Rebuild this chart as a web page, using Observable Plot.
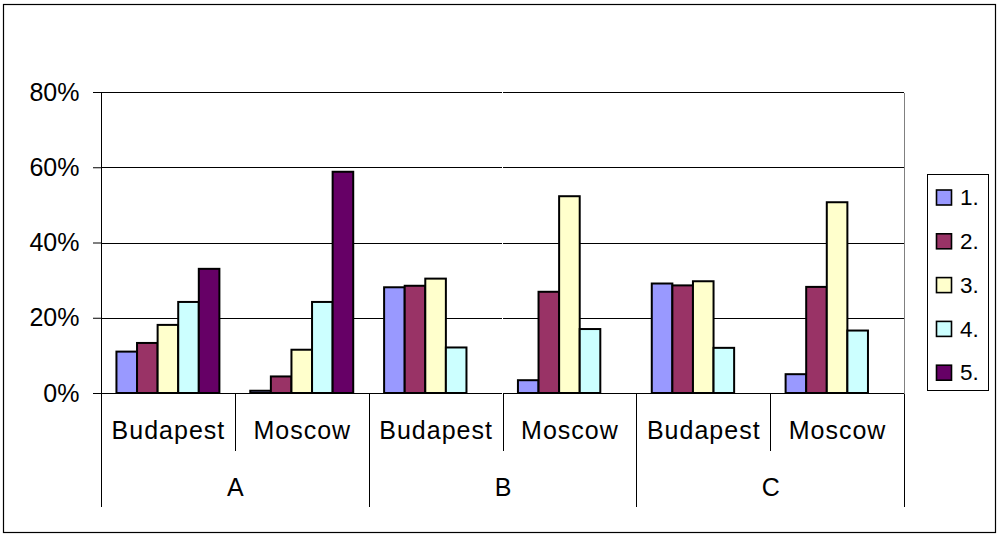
<!DOCTYPE html>
<html>
<head>
<meta charset="utf-8">
<script src="https://cdn.jsdelivr.net/npm/d3@7"></script>
<script src="https://cdn.jsdelivr.net/npm/@observablehq/plot@0.6"></script>
<style>
  html, body { margin: 0; padding: 0; background: #fff; }
  #chart svg { display: block; }
  #chart g[aria-label="fx-axis tick label"] text { letter-spacing: 1px; }
</style>
</head>
<body>
<div id="chart"></div>
<script>
// Groups and cities on the two-level category axis
const groups = ["A", "B", "C"];
const cities = ["Budapest", "Moscow"];
// Answer categories (legend)
const series = ["1.", "2.", "3.", "4.", "5."];
const seriesColors = ["#9999FF", "#993366", "#FFFFCC", "#CCFFFF", "#660066"];
// Y axis ticks (percent)
const yTicks = [0, 20, 40, 60, 80];

// Shares per group/city, in percent, in series order
const aBudapest = [11.0, 13.3, 18.1, 24.2, 33.0];
const aMoscow   = [0.6, 4.4, 11.5, 24.2, 58.8];
const bBudapest = [28.1, 28.5, 30.4, 12.1];
const bMoscow   = [3.4, 26.9, 52.3, 17.0];
const cBudapest = [29.1, 28.6, 29.7, 12.0];
const cMoscow   = [5.0, 28.2, 50.7, 16.6];

const valueTable = {
  "A Budapest": aBudapest, "A Moscow": aMoscow,
  "B Budapest": bBudapest, "B Moscow": bMoscow,
  "C Budapest": cBudapest, "C Moscow": cMoscow
};

const keys = groups.flatMap(g => cities.map(c => `${g} ${c}`));
const rows = keys.flatMap(k => valueTable[k].map((v, i) => ({key: k, series: series[i], value: v})));
// Group label sits on the boundary between its two cities (left edge of the second city)
const groupLabels = groups.map(g => ({key: `${g} ${cities[1]}`, name: g}));

const font = "'Liberation Sans', Arial, sans-serif";

const chart = Plot.plot({
  width: 997,
  height: 534,
  marginLeft: 101,
  marginRight: 93,
  marginTop: 92,
  marginBottom: 141,
  style: {fontFamily: font, fontSize: "25px", color: "#000", background: "transparent", overflow: "visible"},
  fx: {domain: keys, padding: 0, round: false, label: null, tickSize: 0, tickPadding: 28, tickFormat: k => k.split(" ")[1], axis: "bottom"},
  x: {domain: series, paddingInner: 0, paddingOuter: 0.75, round: false, axis: null},
  y: {domain: [0, 80], ticks: yTicks, tickFormat: d => d + "%", tickSize: 8, tickPadding: 14, label: null},
  color: {domain: series, range: seriesColors},
  marks: [
    Plot.ruleY(yTicks.filter(d => d > 0), {stroke: "#000", strokeWidth: 1, shapeRendering: "crispEdges"}),
    Plot.barY(rows, {fx: "key", x: "series", y: "value", fill: "series", stroke: "#000", strokeWidth: 2}),
    Plot.ruleY([0], {stroke: "#000", strokeWidth: 1, shapeRendering: "crispEdges"}),
    Plot.text(groupLabels, {fx: "key", text: "name", frameAnchor: "bottom-left", textAnchor: "middle", lineAnchor: "bottom", dy: 102, fontSize: 25})
  ]
});

document.getElementById("chart").appendChild(chart);

// Category separators, value axis line and plot-area edge, placed with the plot's own scales
const svg = d3.select(chart);
const fx = chart.scale("fx");
const ys = chart.scale("y");
const bandStart = k => fx.apply ? fx.apply(k) : d3.scaleBand().domain(fx.domain).range(fx.range).padding(0)(k);
const bw = fx.bandwidth;
const y0 = ys.apply(0);
const yTop = ys.apply(80);
const px = v => Math.round(v) + 0.5;

const g = svg.append("g").attr("shape-rendering", "crispEdges");
for (let i = 0; i <= keys.length; i++) {
  const x = i < keys.length ? bandStart(keys[i]) : bandStart(keys[keys.length - 1]) + bw;
  const isGroupEdge = i % 2 === 0;
  const yEnd = y0 + (isGroupEdge ? 114 : 58);
  g.append("line").attr("x1", px(x)).attr("x2", px(x)).attr("y1", px(y0)).attr("y2", yEnd).attr("stroke", "#000");
  if (i === 0) {
    g.append("line").attr("x1", px(x)).attr("x2", px(x)).attr("y1", px(yTop)).attr("y2", px(y0)).attr("stroke", "#000");
  }
  if (i === keys.length) {
    g.append("line").attr("x1", px(x)).attr("x2", px(x)).attr("y1", px(yTop)).attr("y2", px(y0)).attr("stroke", "#808080");
  }
}

// Legend
const color = chart.scale("color");
const lg = svg.append("g").attr("text-anchor", "start");
lg.append("rect").attr("x", 927.5).attr("y", 174.5).attr("width", 61).attr("height", 216)
  .attr("fill", "#fff").attr("stroke", "#000").attr("shape-rendering", "crispEdges");
color.domain.forEach((s, i) => {
  const cy = 197 + i * 43.8;
  lg.append("rect").attr("x", 936.5).attr("y", cy - 7).attr("width", 15).attr("height", 15)
    .attr("fill", color.apply ? color.apply(s) : color.range[i]).attr("stroke", "#000").attr("stroke-width", 1.6);
  lg.append("text").attr("x", 960).attr("y", cy).attr("dy", "0.36em").attr("text-anchor", "start")
    .attr("font-family", font).attr("font-size", 22.5).attr("fill", "#000").text(s);
});

// Chart area border
svg.append("rect").attr("x", 3.5).attr("y", 4.5).attr("width", 992).attr("height", 528)
  .attr("fill", "none").attr("stroke", "#000").attr("stroke-width", 1.2);
</script>
</body>
</html>
